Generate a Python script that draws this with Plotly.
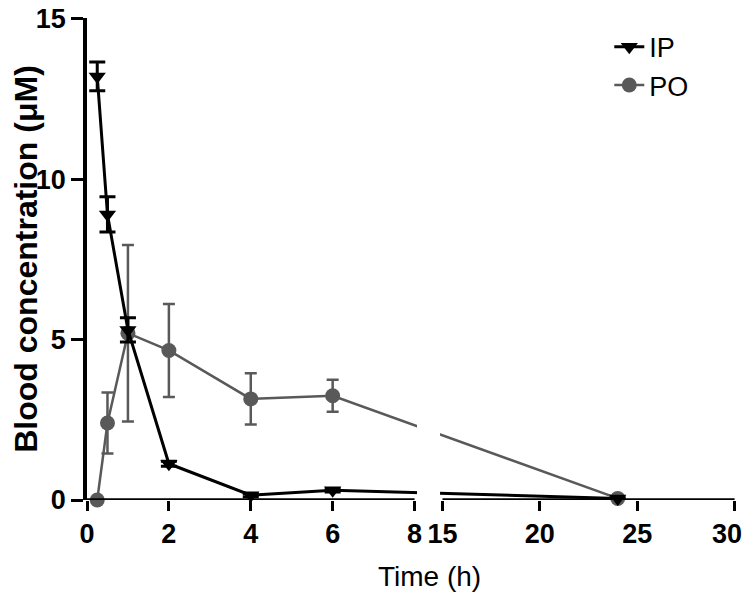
import plotly.graph_objects as go

# data (time in hours, concentration in uM)
ip_time = [0.25, 0.5, 1, 2, 4, 6, 24]
ip_conc = [13.2, 8.9, 5.3, 1.13, 0.15, 0.3, 0.05]
ip_sd = [0.45, 0.55, 0.38, 0.08, 0.05, 0.05, 0.02]

po_time = [0.25, 0.5, 1, 2, 4, 6, 24]
po_conc = [0.0, 2.4, 5.2, 4.66, 3.15, 3.25, 0.05]
po_sd = [0.05, 0.95, 2.75, 1.45, 0.8, 0.5, 0.03]

x_ticks = [0, 2, 4, 6, 8, 15, 20, 25, 30]
y_ticks = [0, 5, 10, 15]

# broken x axis: 0-8 on the left, 15-30 compressed on the right
GAP = 0.683
RIGHT_SCALE = 0.4756


def disp(t):
    return t if t <= 8 else 8 + GAP + (t - 15) * RIGHT_SCALE


FONT = "Liberation Sans, Arial, sans-serif"
GREY = "#595959"

fig = go.Figure()

fig.add_trace(go.Scatter(
    x=[disp(t) for t in po_time], y=po_conc, name="PO",
    mode="lines+markers", legendrank=2, legendgroup="po", cliponaxis=False,
    line=dict(color=GREY, width=2.5),
    marker=dict(symbol="circle", size=15, color=GREY),
    error_y=dict(type="data", array=po_sd, color=GREY, thickness=2.5, width=6),
))
fig.add_trace(go.Scatter(
    x=[disp(t) for t in ip_time], y=ip_conc, name="IP",
    mode="lines+markers", legendrank=1, legendgroup="ip", cliponaxis=False,
    line=dict(color="black", width=3),
    marker=dict(symbol="triangle-down", size=15, color="black"),
    error_y=dict(type="data", array=ip_sd, color="black", thickness=3, width=8),
))

# hide the traces inside the axis break, then draw the two x axis pieces
fig.add_shape(type="rect", xref="x", yref="paper", x0=8.06, x1=disp(15) - 0.06,
              y0=0, y1=1, fillcolor="white", line_width=0, layer="above")
for a, b in [(0, 8), (disp(15), disp(30))]:
    fig.add_shape(type="line", xref="x", yref="y", x0=a, x1=b, y0=0, y1=0,
                  line=dict(color="black", width=3.5), layer="above")

fig.add_annotation(text="Time (h)", xref="paper", yref="paper", x=0.529, y=-0.158,
                   xanchor="center", yanchor="middle", showarrow=False,
                   font=dict(family=FONT, size=28, color="black"))

# last label padded so it stays inside the page
x_labels = [str(t) for t in x_ticks]
x_labels[-1] = x_labels[-1] + "\u00a0\u00a0"

fig.update_xaxes(
    range=[0, disp(30) + 0.01], showline=False, showgrid=False, zeroline=False,
    tickvals=[disp(t) for t in x_ticks], ticktext=x_labels,
    ticks="outside", ticklen=10, tickwidth=3, tickcolor="black",
    tickfont=dict(family=FONT, size=27, color="black", weight="bold"),
    ticklabeloverflow="allow", automargin=False,
)
fig.update_yaxes(
    range=[0, 15.02], showline=True, linewidth=3.5, linecolor="black",
    showgrid=False, zeroline=False, tickvals=y_ticks,
    ticks="outside", ticklen=12, tickwidth=3, tickcolor="black",
    tickfont=dict(family=FONT, size=27, color="black", weight="bold"),
    ticklabeloverflow="allow",
    title=dict(text="Blood concentration (μM)",
               font=dict(family=FONT, size=32, color="black", weight="bold"), standoff=0),
    automargin=False,
)

# page body adds an 8px margin, so the figure is sized to fit inside 750x601
fig.update_layout(
    width=734, height=585,
    margin=dict(l=79, r=7, t=10, b=93),
    plot_bgcolor="white", paper_bgcolor="white",
    legend=dict(x=0.806, y=0.99, xanchor="left", yanchor="top",
                font=dict(family=FONT, size=27, color="black"),
                tracegroupgap=0, bgcolor="rgba(0,0,0,0)"),
)

fig.write_html("out.html")
